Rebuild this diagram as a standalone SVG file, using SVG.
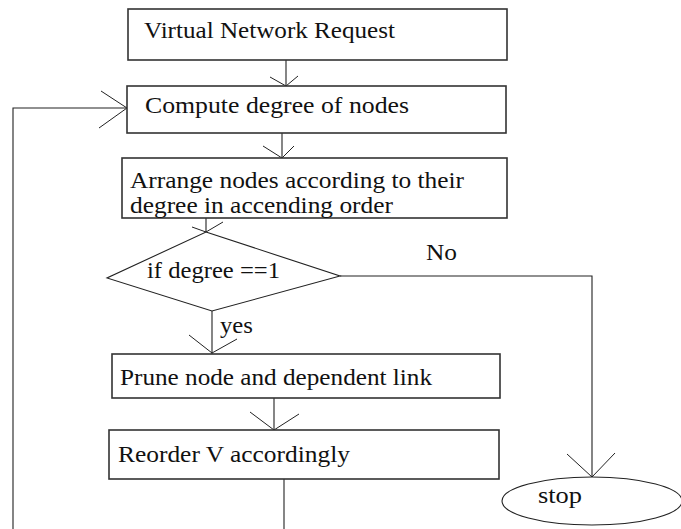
<svg xmlns="http://www.w3.org/2000/svg" width="681" height="529" viewBox="0 0 681 529">
<style>
.box{fill:#fff;stroke:#333;stroke-width:1.6}
.ln{fill:none;stroke:#222;stroke-width:1.1}
.ah{fill:none;stroke:#222;stroke-width:1}
.t{font-family:'Liberation Serif','Times New Roman','DejaVu Serif',Tinos,serif;font-size:23px;fill:#111}
</style>
<rect width="681" height="529" fill="#fff"/>
<g id="connectors">
<line class="ln" x1="286" y1="60" x2="286" y2="86"/>
<polyline class="ah" points="270,77 286,86 298,76"/>
<line class="ln" x1="282" y1="133" x2="282" y2="158"/>
<polyline class="ah" points="263,146 282,158 294,146"/>
<polyline class="ln" points="13,529 13,108 127,108"/>
<polyline class="ah" points="101,91 127,108 99,128"/>
<line class="ln" x1="206" y1="213" x2="206" y2="232"/>
<polyline class="ah" points="192,227 206,232 223,222"/>
<line class="ln" x1="212" y1="311" x2="212" y2="354"/>
<polyline class="ah" points="189,335 212,353 237,339"/>
<polyline class="ln" points="340,276 592,276 592,477"/>
<polyline class="ah" points="567,454 592,477 615,453"/>
<line class="ln" x1="274" y1="398" x2="274" y2="430"/>
<polyline class="ah" points="250,412 274,430 299,414"/>
<line class="ln" x1="284" y1="479" x2="284" y2="529"/>
<text class="t" font-family="Liberation Serif, serif" x="426" y="260" textLength="31" lengthAdjust="spacingAndGlyphs">No</text>
<text class="t" font-family="Liberation Serif, serif" x="220" y="333" textLength="33" lengthAdjust="spacingAndGlyphs">yes</text>
</g>
<g id="n1">
<rect class="box" x="128" y="9" width="379" height="51"/>
<text class="t" font-family="Liberation Serif, serif" x="144" y="38" textLength="251" lengthAdjust="spacingAndGlyphs">Virtual Network Request</text>
</g>
<g id="n2">
<rect class="box" x="127" y="86" width="379" height="47"/>
<text class="t" font-family="Liberation Serif, serif" x="145" y="113" textLength="264" lengthAdjust="spacingAndGlyphs">Compute degree of nodes</text>
</g>
<g id="n3">
<rect class="box" x="122" y="158" width="385" height="60"/>
<text class="t" font-family="Liberation Serif, serif" x="130" y="188" textLength="334" lengthAdjust="spacingAndGlyphs">Arrange nodes according to their</text>
<text class="t" font-family="Liberation Serif, serif" x="130" y="213" textLength="263" lengthAdjust="spacingAndGlyphs">degree in accending order</text>
</g>
<g id="n4">
<polygon class="box" points="206,232 340,276 212,311 107,278" style="stroke-width:1.1;stroke:#222"/>
<text class="t" font-family="Liberation Serif, serif" x="147" y="278" textLength="133" lengthAdjust="spacingAndGlyphs">if degree ==1</text>
</g>
<g id="n5">
<rect class="box" x="112" y="354" width="388" height="44"/>
<text class="t" font-family="Liberation Serif, serif" x="120" y="385" textLength="312" lengthAdjust="spacingAndGlyphs">Prune node and dependent link</text>
</g>
<g id="n6">
<rect class="box" x="109" y="430" width="390" height="49"/>
<text class="t" font-family="Liberation Serif, serif" x="118" y="462" textLength="232" lengthAdjust="spacingAndGlyphs">Reorder V accordingly</text>
</g>
<g id="n7">
<ellipse class="box" cx="592" cy="501" rx="90" ry="24" style="stroke-width:1.1;stroke:#222"/>
<text class="t" font-family="Liberation Serif, serif" x="538" y="503" textLength="44" lengthAdjust="spacingAndGlyphs">stop</text>
</g>
</svg>
